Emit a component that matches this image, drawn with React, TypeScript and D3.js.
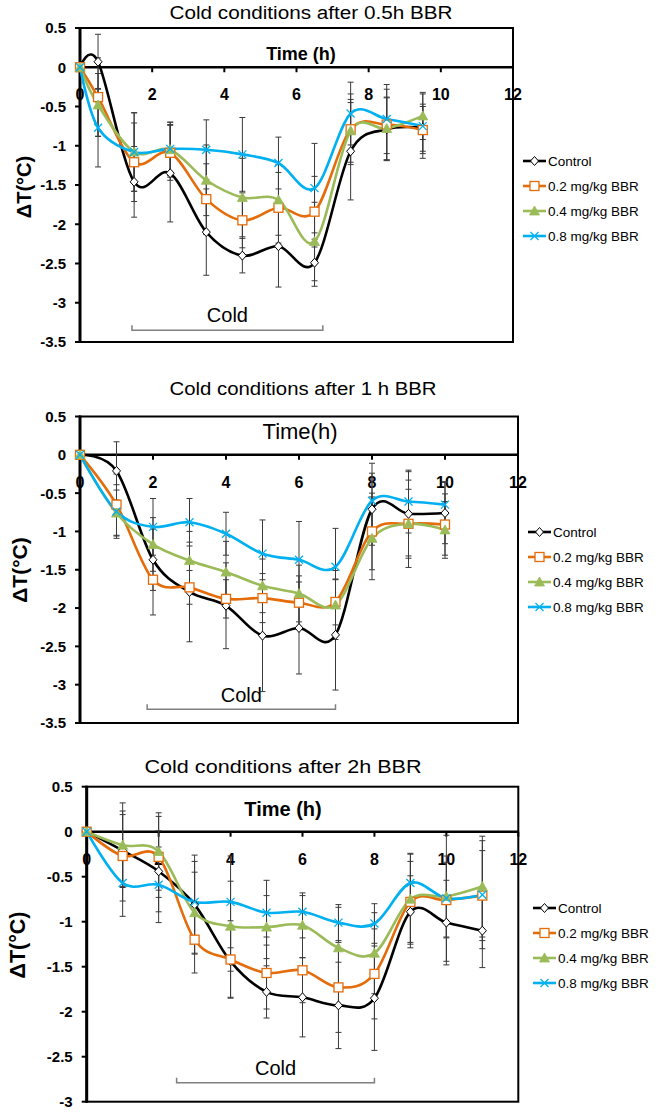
import React from 'react';
import * as d3 from 'd3';

const W = 662;
const H = 1114;

const seriesNames = ['Control', '0.2 mg/kg BBR', '0.4 mg/kg BBR', '0.8 mg/kg BBR'];
const seriesColors = ['#000000', '#E46C0A', '#9BBB59', '#00B0F0'];
const seriesMarkers = ['diamond', 'square', 'triangle', 'cross'];
const xTicks = [0, 2, 4, 6, 8, 10, 12];

// panel 1 - cold after 0.5h BBR
const p1Times = [0, 0.5, 1.5, 2.5, 3.5, 4.5, 5.5, 6.5, 7.5, 8.5, 9.5];
const p1Control = [0, 0.07, -1.46, -1.35, -2.1, -2.4, -2.28, -2.49, -1.07, -0.79, -0.77];
const p1Dose02 = [0, -0.38, -1.21, -1.09, -1.68, -1.95, -1.79, -1.84, -0.79, -0.73, -0.8];
const p1Dose04 = [0, -0.48, -1.08, -1.05, -1.44, -1.66, -1.69, -2.22, -0.81, -0.78, -0.62];
const p1Dose08 = [0, -0.77, -1.08, -1.04, -1.05, -1.11, -1.22, -1.54, -0.59, -0.66, -0.75];
const p1ControlErr = [0, 0.35, 0.45, 0.62, 0.55, 0.22, 0.52, 0.3, 0.62, 0.4, 0.3];
const p1Dose02Err = [0, 0.5, 0.5, 0.35, 0.45, 0.35, 0.45, 0.45, 0.45, 0.45, 0.3];
const p1Dose04Err = [0, 0.4, 0.5, 0.35, 0.45, 0.5, 0.45, 0.5, 0.4, 0.4, 0.3];
const p1Dose08Err = [0, 0.5, 0.5, 0.34, 0.38, 0.47, 0.33, 0.57, 0.4, 0.44, 0.41];

// panel 2 - cold after 1 h BBR
const p2Times = [0, 1, 2, 3, 4, 5, 6, 7, 8, 9, 10];
const p2Control = [0, -0.21, -1.37, -1.79, -1.97, -2.36, -2.26, -2.35, -0.71, -0.77, -0.76];
const p2Dose02 = [0, -0.65, -1.63, -1.73, -1.88, -1.87, -1.93, -1.92, -1.0, -0.9, -0.91];
const p2Dose04 = [0, -0.76, -1.17, -1.38, -1.53, -1.71, -1.81, -1.96, -1.09, -0.9, -0.98];
const p2Dose08 = [0, -0.74, -0.94, -0.88, -1.03, -1.29, -1.37, -1.46, -0.6, -0.61, -0.65];
const p2ControlErr = [0, 0.38, 0.4, 0.65, 0.56, 0.73, 0.6, 0.72, 0.47, 0.55, 0.4];
const p2Dose02Err = [0, 0.4, 0.46, 0.22, 0.25, 0.32, 0.35, 0.3, 0.5, 0.45, 0.4];
const p2Dose04Err = [0, 0.3, 0.35, 0.38, 0.4, 0.35, 0.37, 0.45, 0.54, 0.57, 0.37];
const p2Dose08Err = [0, 0.35, 0.37, 0.31, 0.28, 0.44, 0.5, 0.5, 0.49, 0.41, 0.3];

// panel 3 - cold after 2h BBR
const p3Times = [0, 1, 2, 3, 4, 5, 6, 7, 8, 9, 10, 11];
const p3Control = [0, -0.21, -0.44, -0.81, -1.44, -1.78, -1.84, -1.93, -1.85, -0.89, -1.01, -1.1];
const p3Dose02 = [0, -0.27, -0.28, -1.2, -1.42, -1.57, -1.54, -1.73, -1.58, -0.78, -0.76, -0.71];
const p3Dose04 = [0, -0.15, -0.22, -0.9, -1.05, -1.06, -1.04, -1.29, -1.35, -0.75, -0.72, -0.61];
const p3Dose08 = [0, -0.57, -0.59, -0.78, -0.78, -0.9, -0.89, -1.01, -1.02, -0.57, -0.74, -0.7];
const p3ControlErr = [0, 0.4, 0.45, 0.55, 0.4, 0.29, 0.44, 0.48, 0.58, 0.4, 0.47, 0.41];
const p3Dose02Err = [0, 0.5, 0.45, 0.37, 0.43, 0.4, 0.36, 0.5, 0.5, 0.45, 0.42, 0.5];
const p3Dose04Err = [0, 0.47, 0.43, 0.45, 0.5, 0.35, 0.36, 0.45, 0.45, 0.5, 0.45, 0.56];
const p3Dose08Err = [0, 0.37, 0.42, 0.45, 0.51, 0.36, 0.18, 0.2, 0.22, 0.33, 0.7, 0.6];

const panels = [
  {
    title: 'Cold conditions after 0.5h BBR', titleX: 311, titleY: 19, titleLen: 283,
    timeLabel: 'Time (h)', timeX: 301, timeY: 60, timeSize: 18, timeBold: true,
    left: 80, right: 513, top: 28, bottom: 342, yMin: -3.5,
    yLabelX: 24, yLabelY: 187, yLabelSize: 20,
    cold: [1.44, 6.73, -3.35], coldTextY: 322,
    legendX: 523, legendY: 161,
    times: p1Times,
    values: [p1Control, p1Dose02, p1Dose04, p1Dose08],
    errors: [p1ControlErr, p1Dose02Err, p1Dose04Err, p1Dose08Err],
  },
  {
    title: 'Cold conditions after 1 h BBR', titleX: 303, titleY: 395, titleLen: 267,
    timeLabel: 'Time(h)', timeX: 300, timeY: 439, timeSize: 22, timeBold: false,
    left: 80, right: 518, top: 416.5, bottom: 723, yMin: -3.5,
    yLabelX: 20, yLabelY: 570, yLabelSize: 21,
    cold: [1.84, 7.0, -3.32], coldTextY: 702,
    legendX: 528, legendY: 532,
    times: p2Times,
    values: [p2Control, p2Dose02, p2Dose04, p2Dose08],
    errors: [p2ControlErr, p2Dose02Err, p2Dose04Err, p2Dose08Err],
  },
  {
    title: 'Cold conditions after 2h BBR', titleX: 283, titleY: 773, titleLen: 277,
    timeLabel: 'Time (h)', timeX: 283, timeY: 816, timeSize: 20, timeBold: true,
    left: 86.7, right: 518.3, top: 786.7, bottom: 1101.7, yMin: -3,
    yLabelX: 17, yLabelY: 945, yLabelSize: 21.5,
    cold: [2.5, 8.0, -2.79], coldTextY: 1075,
    legendX: 533, legendY: 908,
    times: p3Times,
    values: [p3Control, p3Dose02, p3Dose04, p3Dose08],
    errors: [p3ControlErr, p3Dose02Err, p3Dose04Err, p3Dose08Err],
  },
];

const FONT = 'Liberation Sans, Arial, sans-serif';

function Marker({ kind, x, y, color }: any) {
  if (kind === 'diamond') {
    return <polygon points={`${x},${y - 4.5} ${x + 4},${y} ${x},${y + 4.5} ${x - 4},${y}`} fill="#fff" stroke={color} strokeWidth={1} />;
  }
  if (kind === 'square') {
    return <rect x={x - 4.5} y={y - 4.5} width={9} height={9} fill="#fff" stroke={color} strokeWidth={1.3} />;
  }
  if (kind === 'triangle') {
    return <polygon points={`${x},${y - 5} ${x + 5},${y + 4} ${x - 5},${y + 4}`} fill={color} stroke={color} strokeWidth={0.8} />;
  }
  return (
    <g stroke={color} strokeWidth={1.3}>
      <line x1={x - 4} y1={y - 4} x2={x + 4} y2={y + 4} />
      <line x1={x - 4} y1={y + 4} x2={x + 4} y2={y - 4} />
    </g>
  );
}

function Panel({ cfg }: any) {
  const x = d3.scaleLinear().domain([0, 12]).range([cfg.left, cfg.right]);
  const y = d3.scaleLinear().domain([cfg.yMin, 0.5]).range([cfg.bottom, cfg.top]);
  const yTicks = d3.range(cfg.yMin, 0.5001, 0.5).map((v) => Math.round(v * 10) / 10);
  const line = d3.line<number>()
    .x((d, i) => x(cfg.times[i]))
    .y((d) => y(d))
    .curve(d3.curveCardinal.tension(0));
  const fmt = (v: number) => (v === 0 ? '0' : String(v));
  const [c0, c1, cy] = cfg.cold;

  return (
    <g fontFamily={FONT}>
      <text x={cfg.titleX} y={cfg.titleY} textAnchor="middle" fontSize={18} textLength={cfg.titleLen} lengthAdjust="spacingAndGlyphs">{cfg.title}</text>

      {/* frame */}
      <rect x={x(0)} y={y(0.5)} width={x(12) - x(0)} height={y(cfg.yMin) - y(0.5)} fill="none" stroke="#000" strokeWidth={2} />
      <line x1={x(0)} x2={x(0)} y1={y(0.5) - 1} y2={y(cfg.yMin) + 1} stroke="#000" strokeWidth={3} />
      <line x1={x(0)} x2={x(12)} y1={y(0)} y2={y(0)} stroke="#000" strokeWidth={2.5} />

      {yTicks.map((v) => (
        <g key={'y' + v}>
          <line x1={x(0) - 5} x2={x(0)} y1={y(v)} y2={y(v)} stroke="#000" strokeWidth={2} />
          <text x={x(0) - 14} y={y(v)} dy="0.36em" textAnchor="end" fontSize={15} fontWeight="bold">{fmt(v)}</text>
        </g>
      ))}
      {xTicks.map((t) => (
        <g key={'x' + t}>
          <line x1={x(t)} x2={x(t)} y1={y(0)} y2={y(0) + 5} stroke="#000" strokeWidth={2} />
          <text x={x(t)} y={y(0) + 33} textAnchor="middle" fontSize={16} fontWeight="bold">{t}</text>
        </g>
      ))}

      <text x={cfg.timeX} y={cfg.timeY} textAnchor="middle" fontSize={cfg.timeSize} fontWeight={cfg.timeBold ? 'bold' : 'normal'}>{cfg.timeLabel}</text>
      <text transform={`translate(${cfg.yLabelX},${cfg.yLabelY}) rotate(-90)`} textAnchor="middle" dy="0.35em" fontSize={cfg.yLabelSize} fontWeight="bold">ΔT(°C)</text>

      {/* cold bracket */}
      <path d={`M${x(c0)},${y(cy) - 5}V${y(cy)}H${x(c1)}V${y(cy) - 5}`} fill="none" stroke="#7f7f7f" strokeWidth={1.5} />
      <text x={(x(c0) + x(c1)) / 2} y={cfg.coldTextY} textAnchor="middle" fontSize={20}>Cold</text>

      {/* error bars */}
      {cfg.values.map((vals: number[], s: number) => (
        <g key={'e' + s} stroke="#3a3a3a" strokeWidth={1}>
          {vals.map((v, i) => {
            const e = cfg.errors[s][i];
            if (!e) return null;
            const px = x(cfg.times[i]);
            return (
              <g key={i}>
                <line x1={px} x2={px} y1={y(v + e)} y2={y(v - e)} />
                <line x1={px - 3} x2={px + 3} y1={y(v + e)} y2={y(v + e)} />
                <line x1={px - 3} x2={px + 3} y1={y(v - e)} y2={y(v - e)} />
              </g>
            );
          })}
        </g>
      ))}

      {/* lines */}
      {cfg.values.map((vals: number[], s: number) => (
        <path key={'l' + s} d={line(vals) || ''} fill="none" stroke={seriesColors[s]} strokeWidth={2.6} />
      ))}
      {cfg.values.map((vals: number[], s: number) => (
        <g key={'m' + s}>
          {vals.map((v, i) => (
            <Marker key={i} kind={seriesMarkers[s]} x={x(cfg.times[i])} y={y(v)} color={seriesColors[s]} />
          ))}
        </g>
      ))}

      {/* legend */}
      {seriesNames.map((name, s) => {
        const ly = cfg.legendY + s * 25;
        return (
          <g key={'lg' + s}>
            <line x1={cfg.legendX} x2={cfg.legendX + 23} y1={ly} y2={ly} stroke={seriesColors[s]} strokeWidth={2.6} />
            <Marker kind={seriesMarkers[s]} x={cfg.legendX + 11.5} y={ly} color={seriesColors[s]} />
            <text x={cfg.legendX + 25} y={ly} dy="0.35em" fontSize={13.5}>{name}</text>
          </g>
        );
      })}
    </g>
  );
}

export default function App() {
  return (
    <svg width={W} height={H} style={{ position: 'absolute', left: 0, top: 0, background: '#fff' }}>
      <rect width={W} height={H} fill="#fff" />
      {panels.map((p, i) => <Panel key={i} cfg={p} />)}
    </svg>
  );
}
